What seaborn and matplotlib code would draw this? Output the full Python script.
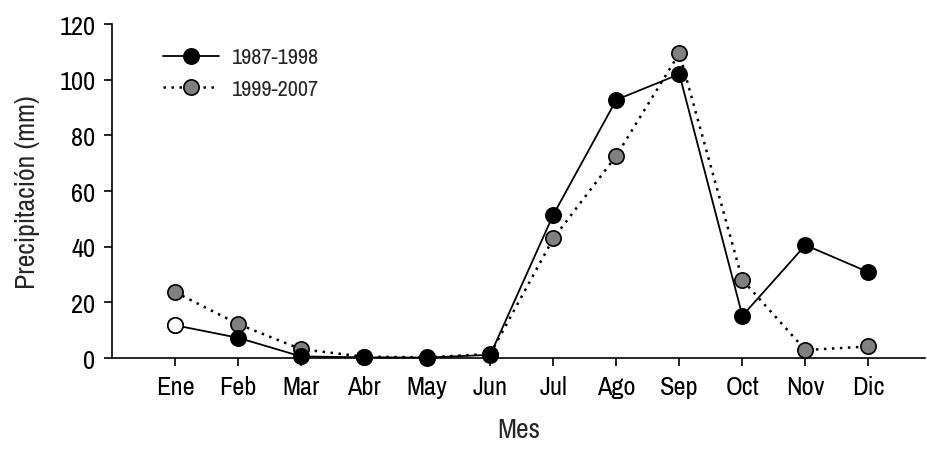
import matplotlib
matplotlib.use("Agg")
import matplotlib.pyplot as plt
import seaborn as sns
import pandas as pd
from matplotlib import font_manager

meses = ["Ene", "Feb", "Mar", "Abr", "May", "Jun", "Jul", "Ago", "Sep", "Oct", "Nov", "Dic"]
p_1987_1998 = [11.8, 7.3, 0.6, 0.3, 0.2, 1.2, 51.5, 92.8, 102.0, 15.2, 40.6, 30.9]
p_1999_2007 = [23.7, 12.2, 3.2, 0.5, 0.3, 1.5, 43.0, 72.7, 109.5, 28.1, 2.9, 4.2]
etiquetas = ["1987-1998", "1999-2007"]
yticks = [0, 20, 40, 60, 80, 100, 120]

sns.set_theme(style="ticks")
fams = {f.name for f in font_manager.fontManager.ttflist}
preferidas = ["Liberation Sans Narrow", "Arial Narrow", "Archivo Narrow", "Roboto Condensed"]
base = next((f for f in preferidas if f in fams), "DejaVu Sans")
plt.rcParams["font.family"] = [base, "DejaVu Sans"]

df = pd.DataFrame({
    "x": list(range(len(meses))) * 2,
    "Precipitación (mm)": p_1987_1998 + p_1999_2007,
    "Periodo": [etiquetas[0]] * len(meses) + [etiquetas[1]] * len(meses),
})

fig = plt.figure(figsize=(9.27, 4.64), dpi=100)
ax = fig.add_axes([0.121, 0.226, 0.877, 0.72])

d1 = df[df["Periodo"] == etiquetas[0]]
d2 = df[df["Periodo"] == etiquetas[1]]

sns.lineplot(data=d2, x="x", y="Precipitación (mm)", ax=ax, color="black",
             linestyle=(0, (1, 2.2)), linewidth=1.8, marker="o", markersize=11,
             markerfacecolor="#808080", markeredgecolor="black", markeredgewidth=1.2,
             label=etiquetas[1], clip_on=False, zorder=3)
sns.lineplot(data=d1, x="x", y="Precipitación (mm)", ax=ax, color="black",
             linestyle="-", linewidth=1.3, marker="o", markersize=11,
             markerfacecolor="black", markeredgecolor="black", markeredgewidth=1.2,
             label=etiquetas[0], clip_on=False, zorder=4)
# first month of the 1987-1998 series shown as an open circle
ax.plot(d1["x"].iloc[:1], d1["Precipitación (mm)"].iloc[:1], "o", markersize=11,
        markerfacecolor="white", markeredgecolor="black", markeredgewidth=1.2,
        clip_on=False, zorder=5)

ax.set_xlim(-1, 11.9)
ax.set_ylim(0, 120)
ax.set_xticks(range(len(meses)))
ax.set_xticklabels(meses)
ax.set_yticks(yticks)
ax.tick_params(axis="both", direction="out", length=6, width=1.2, labelsize=19,
               colors="black", pad=6)
for s in ["top", "right"]:
    ax.spines[s].set_visible(False)
for s in ["left", "bottom"]:
    ax.spines[s].set_linewidth(1.2)
    ax.spines[s].set_color("black")
ax.set_xlabel("Mes", fontsize=20, labelpad=14)
ax.set_ylabel("Precipitación (mm)", fontsize=20, labelpad=14)

h, l = ax.get_legend_handles_labels()
order = [l.index(etiquetas[0]), l.index(etiquetas[1])]
ax.legend([h[i] for i in order], [l[i] for i in order], loc="upper left",
          bbox_to_anchor=(0.038, 0.99), frameon=False, fontsize=16,
          handlelength=2.5, handletextpad=0.6, labelspacing=0.5)

fig.savefig("out.png", dpi=100)
